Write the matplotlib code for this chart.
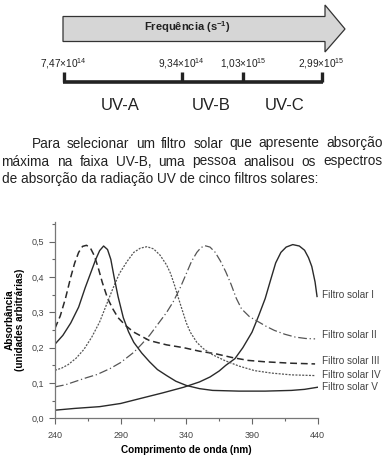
import matplotlib
matplotlib.use('Agg')
import matplotlib.pyplot as plt
from matplotlib.patches import Polygon

plt.rcParams['font.family'] = ['Liberation Sans', 'DejaVu Sans']
plt.rcParams['mathtext.fontset'] = 'custom'
plt.rcParams['mathtext.rm'] = 'Liberation Sans'
plt.rcParams['mathtext.bf'] = 'Liberation Sans:bold'

# frequency scale (top diagram)
freq_labels = ['7,47×10$^{\\mathrm{14}}$', '9,34×10$^{\\mathrm{14}}$',
               '1,03×10$^{\\mathrm{15}}$', '2,99×10$^{\\mathrm{15}}$']
band_names = ['UV-A', 'UV-B', 'UV-C']

intro_lines = ['Para selecionar um filtro solar que apresente absorção',
               'máxima na faixa UV-B, uma pessoa analisou os espectros',
               'de absorção da radiação UV de cinco filtros solares:']

# spectra
wl_1 = [240, 255, 274, 290, 307, 322, 338, 350, 358, 365, 370, 377, 383, 390, 395,
        400, 404, 408, 412, 416, 421, 426, 430, 433, 435.5, 438, 439.5]
abs_1 = [0.023, 0.028, 0.033, 0.042, 0.058, 0.072, 0.088, 0.103, 0.117, 0.134, 0.15,
         0.169, 0.2, 0.244, 0.29, 0.339, 0.39, 0.44, 0.47, 0.485, 0.492, 0.488, 0.476,
         0.455, 0.43, 0.386, 0.345]

wl_2 = [240, 248, 256, 264, 272, 282, 290, 300, 306, 312, 318, 325, 330, 335, 340, 344,
        348, 351, 354, 358, 362, 366, 370, 374, 378, 382, 388, 395, 401, 407, 415, 423,
        431, 438]
abs_2 = [0.089, 0.095, 0.105, 0.115, 0.124, 0.141, 0.158, 0.187, 0.21, 0.235, 0.265,
         0.3, 0.33, 0.367, 0.41, 0.445, 0.47, 0.483, 0.489, 0.485, 0.47, 0.445, 0.415,
         0.38, 0.34, 0.31, 0.288, 0.273, 0.26, 0.249, 0.238, 0.23, 0.226, 0.225]

wl_3 = [240, 244, 248, 252, 255, 258, 261, 264, 267, 270, 273, 276, 280, 284, 288, 294,
        300, 312, 325, 338, 350, 362, 375, 387, 400, 420, 438]
abs_3 = [0.255, 0.29, 0.34, 0.4, 0.44, 0.47, 0.487, 0.49, 0.482, 0.46, 0.425, 0.385,
         0.34, 0.31, 0.285, 0.262, 0.244, 0.22, 0.208, 0.2, 0.19, 0.183, 0.172, 0.164,
         0.16, 0.156, 0.154]

wl_4 = [240, 245, 250, 256, 262, 268, 274, 279, 284, 289, 295, 300, 305, 310, 315, 320,
        325, 328, 331, 334, 337, 340, 343, 348, 353, 360, 369, 380, 392, 405, 420, 438]
abs_4 = [0.136, 0.142, 0.152, 0.17, 0.195, 0.23, 0.273, 0.32, 0.367, 0.41, 0.445, 0.47,
         0.482, 0.486, 0.48, 0.462, 0.434, 0.41, 0.377, 0.34, 0.305, 0.27, 0.244, 0.215,
         0.197, 0.18, 0.164, 0.148, 0.135, 0.128, 0.123, 0.121]

wl_5 = [240, 246, 252, 258, 263, 267, 271, 274, 277, 280, 282.5, 285, 288, 292, 296, 300,
        306, 312, 318, 325, 332, 340, 350, 360, 380, 400, 420, 430, 440]
abs_5 = [0.21, 0.235, 0.27, 0.315, 0.37, 0.41, 0.45, 0.475, 0.488, 0.478, 0.45, 0.4,
         0.345, 0.285, 0.245, 0.215, 0.185, 0.16, 0.138, 0.121, 0.105, 0.093, 0.084,
         0.079, 0.077, 0.077, 0.079, 0.082, 0.088]

filter_names = ['Filtro solar I', 'Filtro solar II', 'Filtro solar III',
                'Filtro solar IV', 'Filtro solar V']

fig = plt.figure(figsize=(3.86, 4.58), dpi=100)
renderer = fig.canvas.get_renderer()

# overlay in pixel coordinates for the diagram and text
ov = fig.add_axes([0, 0, 1, 1])
ov.set_xlim(0, 386)
ov.set_ylim(458, 0)
ov.axis('off')

arrow = Polygon([(63, 16.5), (325, 16.5), (325, 5), (345, 29), (325, 52), (325, 41.5), (63, 41.5)],
                closed=True, facecolor='#d6d6d6', edgecolor='#333333', lw=0.9)
ov.add_patch(arrow)
ov.text(187, 27, 'Frequência (s$^{\\mathbf{-1}}$)', ha='center', va='center',
        fontsize=8, fontweight='bold', color='#222222')

tick_x = [63.5, 181.5, 243, 321.5]
ov.plot([62.5, 322.5], [81.5, 81.5], color='#222222', lw=2.6, solid_capstyle='butt')
for tx, lab in zip(tick_x, freq_labels):
    ov.plot([tx, tx], [72, 82], color='#222222', lw=2.4, solid_capstyle='butt')
    ov.text(tx, 64, lab, ha='center', va='center', fontsize=7.3, color='#222222')

band_x = [120, 211.5, 285]
for bx, name in zip(band_x, band_names):
    ov.text(bx, 105, name, ha='center', va='center', fontsize=12, color='#222222')


def text_width(s, fs):
    t = ov.text(0, 0, s, fontsize=fs)
    w = t.get_window_extent(renderer).width
    t.remove()
    return w


def justified(x0, x1, y, txt, fs):
    words = txt.split(' ')
    full = text_width(txt, fs)
    extra = (x1 - x0 - full) / (len(words) - 1)
    for i, w in enumerate(words):
        start = text_width(' '.join(words[:i + 1]), fs) - text_width(w, fs)
        ov.text(x0 + start + i * extra, y, w, ha='left', va='center', fontsize=fs,
                color='#222222')


fs_par = 9.85
justified(31.5, 382.5, 143.5, intro_lines[0], fs_par)
justified(1.5, 382.5, 161.5, intro_lines[1], fs_par)
ov.text(1.5, 178.5, intro_lines[2], ha='left', va='center', fontsize=fs_par, color='#222222')

# spectra chart
ax = fig.add_axes([55 / 386, 1 - 418.3 / 458, (317.7 - 55) / 386, (418.3 - 222) / 458])
ax.plot(wl_1, abs_1, color='#2a2a2a', lw=1.0)
ax.plot(wl_2, abs_2, color='#555555', lw=0.9, dashes=(7, 2.2, 1, 2.2))
ax.plot(wl_3, abs_3, color='#2a2a2a', lw=1.1, dashes=(4.5, 2.5))
ax.plot(wl_4, abs_4, color='#555555', lw=0.9, dashes=(1.6, 1.1))
ax.plot(wl_5, abs_5, color='#2a2a2a', lw=1.0)

ax.set_xlim(240, 440)
ax.set_ylim(0, 0.556)
ax.set_xticks([240, 290, 340, 390, 440])
ax.set_xticks([265, 315, 365, 415], minor=True)
ax.set_yticks([0, 0.1, 0.2, 0.3, 0.4, 0.5])
ax.set_yticks([0.05, 0.15, 0.25, 0.35, 0.45, 0.55], minor=True)
ax.set_yticklabels(['0,0', '0,1', '0,2', '0,3', '0,4', '0,5'])
ax.tick_params(which='major', length=4.5, width=0.8, color='#666666', labelsize=6.5,
               labelcolor='#444444', pad=3)
ax.tick_params(axis='x', which='major', pad=5)
ax.tick_params(which='minor', length=2.2, width=0.8, color='#666666')
for s in ['top', 'right']:
    ax.spines[s].set_visible(False)
for s in ['left', 'bottom']:
    ax.spines[s].set_color('#777777')
    ax.spines[s].set_linewidth(0.9)
ax.patch.set_alpha(0)

ax.set_xlabel('Comprimento de onda (nm)', fontsize=7.2, fontweight='bold', labelpad=3)
ax.set_ylabel('Absorbância\n(unidades arbitrárias)', fontsize=7.2, fontweight='bold',
              labelpad=5, linespacing=1.1)

label_y = [295, 335, 361.5, 375, 387.5]
for ly, name in zip(label_y, filter_names):
    ov.text(322.5, ly, name, ha='left', va='center', fontsize=7.2, color='#444444')

fig.savefig('out.png', dpi=100)
